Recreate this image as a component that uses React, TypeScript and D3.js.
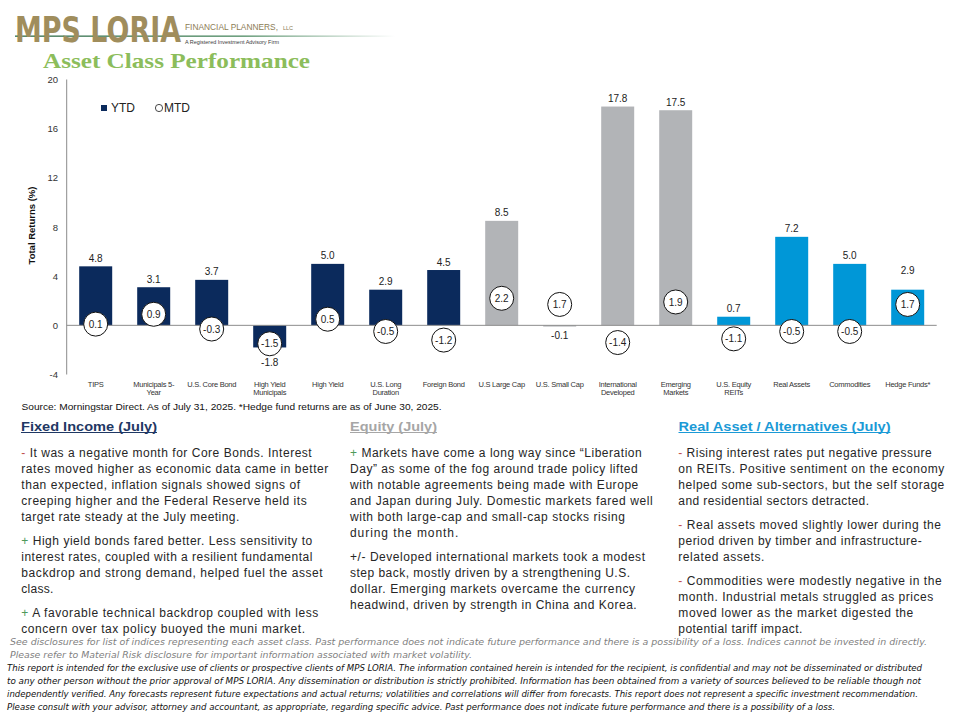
import React from 'react';
import * as d3 from 'd3';

const categories = [
  'TIPS', 'Municipals 5-\nYear', 'U.S. Core Bond', 'High Yield\nMunicipals', 'High Yield',
  'U.S. Long\nDuration', 'Foreign Bond', 'U.S Large Cap', 'U.S. Small Cap', 'International\nDeveloped',
  'Emerging\nMarkets', 'U.S. Equity\nREITs', 'Real Assets', 'Commodities', 'Hedge Funds*',
];
const ytd = [4.8, 3.1, 3.7, -1.8, 5.0, 2.9, 4.5, 8.5, -0.1, 17.8, 17.5, 0.7, 7.2, 5.0, 2.9];
const mtd = [0.1, 0.9, -0.3, -1.5, 0.5, -0.5, -1.2, 2.2, 1.7, -1.4, 1.9, -1.1, -0.5, -0.5, 1.7];
const groups = ['fixed', 'fixed', 'fixed', 'fixed', 'fixed', 'fixed', 'fixed', 'equity', 'equity', 'equity', 'equity', 'real', 'real', 'real', 'real'];
const groupKeys = ['fixed', 'equity', 'real'];
const groupColors = ['#0b2a5c', '#b2b4b7', '#0097d7'];
const yTicks = [-4, 0, 4, 8, 12, 16, 20];

type Para = { mark: string; markColor: string; lines: string[]; widths: number[] };
const fixedText: Para[] = [
  { mark: '-', markColor: '#c0504d', lines: [
    ' It was a negative  month for Core Bonds. Interest',
    'rates moved  higher as economic data came in better',
    'than expected, inflation  signals showed signs of',
    'creeping higher and the Federal Reserve  held its',
    'target rate steady at the July meeting.'], widths: [290.4, 307, 278.7, 285.4, 218] },
  { mark: '+', markColor: '#4e9a5a', lines: [
    ' High yield bonds fared  better. Less sensitivity to',
    'interest rates, coupled with a resilient fundamental',
    'backdrop and strong demand, helped fuel the asset',
    'class.'], widths: [291, 291, 301.4, 32] },
  { mark: '+', markColor: '#4e9a5a', lines: [
    ' A favorable  technical backdrop coupled with less',
    'concern over tax policy buoyed the muni market.'], widths: [297, 283.7] },
];
const equityText: Para[] = [
  { mark: '+', markColor: '#4e9a5a', lines: [
    ' Markets have  come a long way since “Liberation',
    'Day” as some of the fog around trade policy lifted',
    'with notable agreements  being made with Europe',
    'and Japan during July. Domestic markets fared  well',
    'with both large-cap and small-cap stocks rising',
    'during the month.'], widths: [291.7, 287.7, 288.3, 302.7, 275, 108.3] },
  { mark: '+/-', markColor: '#262626', lines: [
    ' Developed  international  markets took a modest',
    'step back, mostly driven  by a strengthening U.S.',
    'dollar. Emerging markets overcame  the currency',
    'headwind,  driven  by strength in China and Korea.'], widths: [295, 280, 285, 286.7] },
];
const realText: Para[] = [
  { mark: '-', markColor: '#c0504d', lines: [
    ' Rising interest rates put negative  pressure',
    'on REITs.  Positive sentiment on the economy',
    'helped some sub-sectors, but the self storage',
    'and residential  sectors detracted.'], widths: [253.4, 266, 266, 190.7] },
  { mark: '-', markColor: '#c0504d', lines: [
    ' Real assets moved  slightly lower during the',
    'period driven  by timber and infrastructure-',
    'related assets.'], widths: [262.7, 243.4, 86] },
  { mark: '-', markColor: '#c0504d', lines: [
    ' Commodities were  modestly negative  in the',
    'month. Industrial  metals struggled  as prices',
    'moved lower  as the market digested the',
    'potential tariff impact.'], widths: [263.4, 255, 235, 124] },
];

const grayNotes = [
  'See disclosures for list of indices representing each asset class. Past performance does not indicate future performance and there is a possibility of a loss. Indices cannot be invested in directly.',
  'Please refer to Material Risk disclosure for important information associated with market volatility.',
];
const disclaimer = [
  'This report is intended for the exclusive use of clients or prospective clients of MPS LORIA. The information contained herein is intended for the recipient, is confidential and may not be disseminated or distributed',
  'to any other person without the prior approval of MPS LORIA. Any dissemination or distribution is strictly prohibited. Information has been obtained from a variety of sources believed to be reliable though not',
  'independently verified. Any forecasts represent future expectations and actual returns; volatilities and correlations will differ from forecasts. This report does not represent a specific investment recommendation.',
  'Please consult with your advisor, attorney and accountant, as appropriate, regarding specific advice. Past performance does not indicate future performance and there is a possibility of a loss.',
];
const grayWidths = [917, 462];
const discWidths = [915, 914, 911, 828];

const SANS = '"Liberation Sans", Arial, sans-serif';
const NARROW = '"Liberation Sans Narrow", "DejaVu Sans Condensed", "Liberation Sans", sans-serif';

function TextColumn({ x, paras }: { x: number; paras: Para[] }) {
  let yy = 457;
  const out: React.ReactNode[] = [];
  paras.forEach((p, pi) => {
    p.lines.forEach((ln, li) => {
      out.push(
        <text key={`${pi}-${li}`} x={x} y={yy} fontSize={12} fill="#262626" fontFamily={SANS}
          textLength={p.widths[li]} lengthAdjust="spacing">
          {li === 0 ? <tspan fill={p.markColor}>{p.mark}</tspan> : null}
          {ln}
        </text>
      );
      yy += 16;
    });
    yy += 8;
  });
  return <g style={{ whiteSpace: 'pre' }}>{out}</g>;
}

export default function App() {
  const W = 960, H = 720;
  const x = d3.scaleBand<string>().domain(categories).range([66.7, 936.7]).paddingInner(0.431).paddingOuter(0.2155);
  const y = d3.scaleLinear().domain([-4, 20]).range([374.5, 79.5]);
  const color = d3.scaleOrdinal<string, string>().domain(groupKeys).range(groupColors);
  const bw = x.bandwidth();
  const R = 12;

  return (
    <div style={{ position: 'absolute', left: 0, top: 0 }}>
      <svg width={W} height={H} viewBox={`0 0 ${W} ${H}`} style={{ display: 'block', background: '#fff' }}>
        <defs>
          <linearGradient id="logoLine" x1="0" x2="1" y1="0" y2="0">
            <stop offset="0" stopColor="#2e6a48" />
            <stop offset="0.6" stopColor="#4d8a62" />
            <stop offset="1" stopColor="#ffffff" />
          </linearGradient>
        </defs>
        {/* Logo */}
        <rect x={15} y={35.5} width={380} height={1.3} fill="url(#logoLine)" />
        <g transform="translate(15,42) scale(1,1.35)">
          <text x={0} y={0} fontFamily='"DejaVu Sans", sans-serif' fontWeight="bold" fontSize={26}
            textLength={166} lengthAdjust="spacingAndGlyphs" fill="#a08d5c">MPS LORIA</text>
        </g>
        <text x={185} y={30} fontFamily={SANS} fontSize={8.2} textLength={93} lengthAdjust="spacingAndGlyphs" fill="#8c7c55">FINANCIAL PLANNERS,</text>
        <text x={283} y={30} fontFamily={SANS} fontSize={5.5} fill="#8c7c55">LLC</text>
        <text x={185} y={44} fontFamily={SANS} fontSize={5.5} textLength={94} lengthAdjust="spacingAndGlyphs" fill="#3b3b3b">A Registered Investment Advisory Firm</text>
        <text x={43} y={68} fontFamily='"Liberation Serif", "DejaVu Serif", serif' fontWeight="bold" fontSize={22}
          textLength={267} lengthAdjust="spacingAndGlyphs" fill="#8cbd5b">Asset Class Performance</text>

        {/* Y axis */}
        <line x1={66.7} x2={66.7} y1={y(20)} y2={y(-4)} stroke="#8c8c8c" strokeWidth={1} />
        {yTicks.map(t => (
          <text key={t} x={58} y={y(t) + 3.5} textAnchor="end" fontSize={9.5} fontFamily={SANS} fill="#333">{t}</text>
        ))}
        <text transform={`translate(34.5, 225.5) rotate(-90)`} textAnchor="middle" fontSize={9.5} fontWeight="bold"
          fontFamily={SANS} fill="#111">Total Returns (%)</text>

        {/* Legend */}
        <rect x={101} y={105} width={6} height={6} fill={groupColors[0]} />
        <text x={111} y={112} fontSize={12} fontFamily={SANS} fill="#222">YTD</text>
        <circle cx={159} cy={108} r={3.6} fill="#fff" stroke="#333" strokeWidth={0.9} />
        <text x={164} y={112} fontSize={12} fontFamily={SANS} fill="#222">MTD</text>

        {/* Bars */}
        {categories.map((c, i) => {
          const v = ytd[i];
          const y0 = y(0), y1 = y(v);
          return <rect key={c} x={x(c)} y={Math.min(y0, y1)} width={bw} height={Math.abs(y1 - y0)} fill={color(groups[i])} />;
        })}
        {/* zero line */}
        <line x1={66.7} x2={936.7} y1={y(0)} y2={y(0)} stroke="#8c8c8c" strokeWidth={1} />

        {/* YTD labels */}
        {categories.map((c, i) => {
          const v = ytd[i];
          const cx = (x(c) as number) + bw / 2;
          const cy = y(mtd[i]);
          let base: number;
          if (v >= 0) {
            const top = y(v);
            base = top - 4.5;
            if (cy - R < top + 6) base = Math.min(base, cy - R - 18);
          } else {
            const bot = y(v);
            let top = bot + 4;
            if (cy + R > bot - 4) top = Math.max(top, cy + R + 2);
            base = top + 8;
          }
          return <text key={c} x={cx} y={base} textAnchor="middle" fontSize={10} fontFamily={SANS} fill="#222">{v.toFixed(1)}</text>;
        })}

        {/* MTD circles */}
        {categories.map((c, i) => {
          const cx = (x(c) as number) + bw / 2;
          const cy = y(mtd[i]);
          return (
            <g key={c}>
              <circle cx={cx} cy={cy} r={R} fill="#fff" stroke="#111" strokeWidth={1} />
              <text x={cx} y={cy + 3.6} textAnchor="middle" fontSize={10} fontFamily={SANS} fill="#222">{mtd[i].toFixed(1)}</text>
            </g>
          );
        })}

        {/* Category labels */}
        {categories.map(c => {
          const cx = (x(c) as number) + bw / 2;
          return (
            <text key={c} x={cx} y={387} textAnchor="middle" fontSize={7.5} fontFamily={SANS} fill="#333" letterSpacing={-0.25}>
              {c.split('\n').map((ln, k) => <tspan key={k} x={cx} dy={k === 0 ? 0 : 8}>{ln}</tspan>)}
            </text>
          );
        })}

        {/* Source */}
        <text x={21.5} y={410} fontSize={9.5} fontFamily={SANS} fill="#111" textLength={420} lengthAdjust="spacingAndGlyphs">
          Source: Morningstar Direct. As of July 31, 2025. *Hedge fund returns are as of June 30, 2025.
        </text>

        {/* Headings */}
        <text x={21} y={430.5} fontSize={13.5} fontWeight="bold" fontFamily={SANS} fill="#1f3864" textLength={136} lengthAdjust="spacingAndGlyphs">Fixed Income (July)</text>
        <line x1={21} x2={157} y1={432.5} y2={432.5} stroke="#1f3864" strokeWidth={1} />
        <text x={350} y={430.5} fontSize={13.5} fontWeight="bold" fontFamily={SANS} fill="#a6a6a6" textLength={87} lengthAdjust="spacingAndGlyphs">Equity (July)</text>
        <line x1={350} x2={437} y1={432.5} y2={432.5} stroke="#a6a6a6" strokeWidth={1} />
        <text x={678.5} y={430.5} fontSize={13.5} fontWeight="bold" fontFamily={SANS} fill="#1b9ad6" textLength={212} lengthAdjust="spacingAndGlyphs">Real Asset / Alternatives (July)</text>
        <line x1={678.5} x2={890.5} y1={432.5} y2={432.5} stroke="#1b9ad6" strokeWidth={1} />

        <TextColumn x={21.3} paras={fixedText} />
        <TextColumn x={350} paras={equityText} />
        <TextColumn x={678.3} paras={realText} />

        {/* Footnotes */}
        {grayNotes.map((t, i) => (
          <text key={i} x={10} y={645 + i * 13} fontSize={9.5} fontStyle="italic" fontFamily={NARROW} fill="#7f7f7f"
            textLength={grayWidths[i]} lengthAdjust="spacingAndGlyphs">{t}</text>
        ))}
        {disclaimer.map((t, i) => (
          <text key={i} x={7} y={671 + i * 13} fontSize={9} fontStyle="italic" fontFamily={NARROW} fill="#111"
            textLength={discWidths[i]} lengthAdjust="spacingAndGlyphs">{t}</text>
        ))}
      </svg>
    </div>
  );
}
